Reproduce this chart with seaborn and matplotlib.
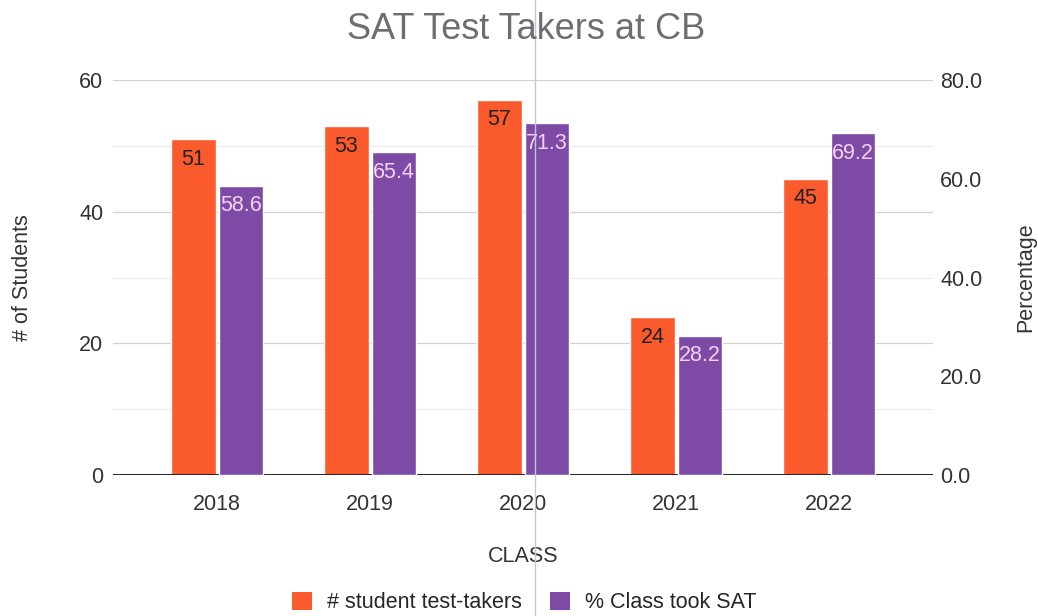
import numpy as np
import pandas as pd
import matplotlib
matplotlib.use("Agg")
import matplotlib.pyplot as plt
from matplotlib.patches import Patch
from matplotlib.lines import Line2D
import seaborn as sns

# data
years = ["2018", "2019", "2020", "2021", "2022"]
students = [51, 53, 57, 24, 45]
pct_took = [58.6, 65.4, 71.3, 28.2, 69.2]
series_names = ["# student test-takers", "% Class took SAT"]

ORANGE = "#fb5a2c"
PURPLE = "#7d4ba6"
TXT = "#333333"
FS = 15.5

sns.set_theme(style="white")
plt.rcParams["font.family"] = ["Liberation Sans", "DejaVu Sans"]

df = pd.DataFrame({
    "year": years * 2,
    "series": [series_names[0]] * len(years) + [series_names[1]] * len(years),
    "value": students + pct_took,
})
left_df = df.assign(value=df["value"].where(df["series"] == series_names[0]))
right_df = df.assign(value=df["value"].where(df["series"] == series_names[1]))

fig = plt.figure(figsize=(10.38, 6.16), dpi=100)
ax = fig.add_axes([0.109, 0.229, 0.790, 0.641])
ax2 = ax.twinx()

pal = {series_names[0]: ORANGE, series_names[1]: PURPLE}
common = dict(x="year", y="value", hue="series", hue_order=series_names,
              order=years, palette=pal, errorbar=None, width=0.62, gap=0.06,
              legend=False, saturation=1)
sns.barplot(data=left_df, ax=ax, **common)
sns.barplot(data=right_df, ax=ax2, **common)

ax.set_ylim(0, 60)
ax2.set_ylim(0, 80)
ax.set_xlim(-0.68, 4.68)

# bar labels inside top of each bar
for c in ax.containers:
    if len(c) and not np.all(np.isnan([b.get_height() for b in c])):
        ax.bar_label(c, fmt="%d", padding=-22, fontsize=FS, color="#222222")
for c in ax2.containers:
    if len(c) and not np.all(np.isnan([b.get_height() for b in c])):
        ax2.bar_label(c, fmt="%.1f", padding=-22, fontsize=FS, color="#f3d2f3")

# grid: major + faint minor lines on the left scale
ax.set_yticks([0, 20, 40, 60])
ax.set_yticks([10, 30, 50], minor=True)
ax.grid(axis="y", which="major", color="#d2d2d2", lw=0.9)
ax.grid(axis="y", which="minor", color="#eaeaea", lw=0.8)
ax.set_axisbelow(True)
ax2.set_yticks([0, 20, 40, 60, 80])
ax2.set_yticklabels([f"{v:.1f}" for v in [0, 20, 40, 60, 80]])
ax2.grid(False)

for a in (ax, ax2):
    for s in a.spines.values():
        s.set_visible(False)
ax.axhline(0, color="#222222", lw=1.4, zorder=5)

ax.tick_params(axis="x", which="major", direction="inout", length=16,
               width=1.3, color="#222222", labelsize=FS, labelcolor=TXT, pad=6)
ax.tick_params(axis="y", which="both", length=0, labelsize=FS,
               labelcolor=TXT, pad=7)
ax2.tick_params(axis="y", length=0, labelsize=FS, labelcolor=TXT, pad=5)

ax.set_xlabel("CLASS", fontsize=FS, color=TXT, labelpad=22)
ax.set_ylabel("# of Students", fontsize=FS, color=TXT)
ax2.set_ylabel("Percentage", fontsize=FS, color=TXT)
ax.yaxis.set_label_coords(-0.098, 0.5)
ax2.yaxis.set_label_coords(1.100, 0.5)

fig.text(0.507, 0.952, "SAT Test Takers at CB", ha="center", va="center",
         fontsize=26, color="#6e6e6e")

handles = [Patch(facecolor=ORANGE, edgecolor="none"),
           Patch(facecolor=PURPLE, edgecolor="none")]
fig.legend(handles, series_names, loc="center", bbox_to_anchor=(0.505, 0.022),
           ncol=2, frameon=False, fontsize=FS, handlelength=0.93,
           handleheight=0.93, columnspacing=1.3, handletextpad=0.7,
           borderpad=0.1)

# faint scanner streak seen in the reference
fig.add_artist(Line2D([535 / 1038, 535 / 1038], [0, 1], transform=fig.transFigure,
                      color="#c4c4dc", lw=1.0))

fig.savefig("out.png", dpi=100)
plt.close(fig)
